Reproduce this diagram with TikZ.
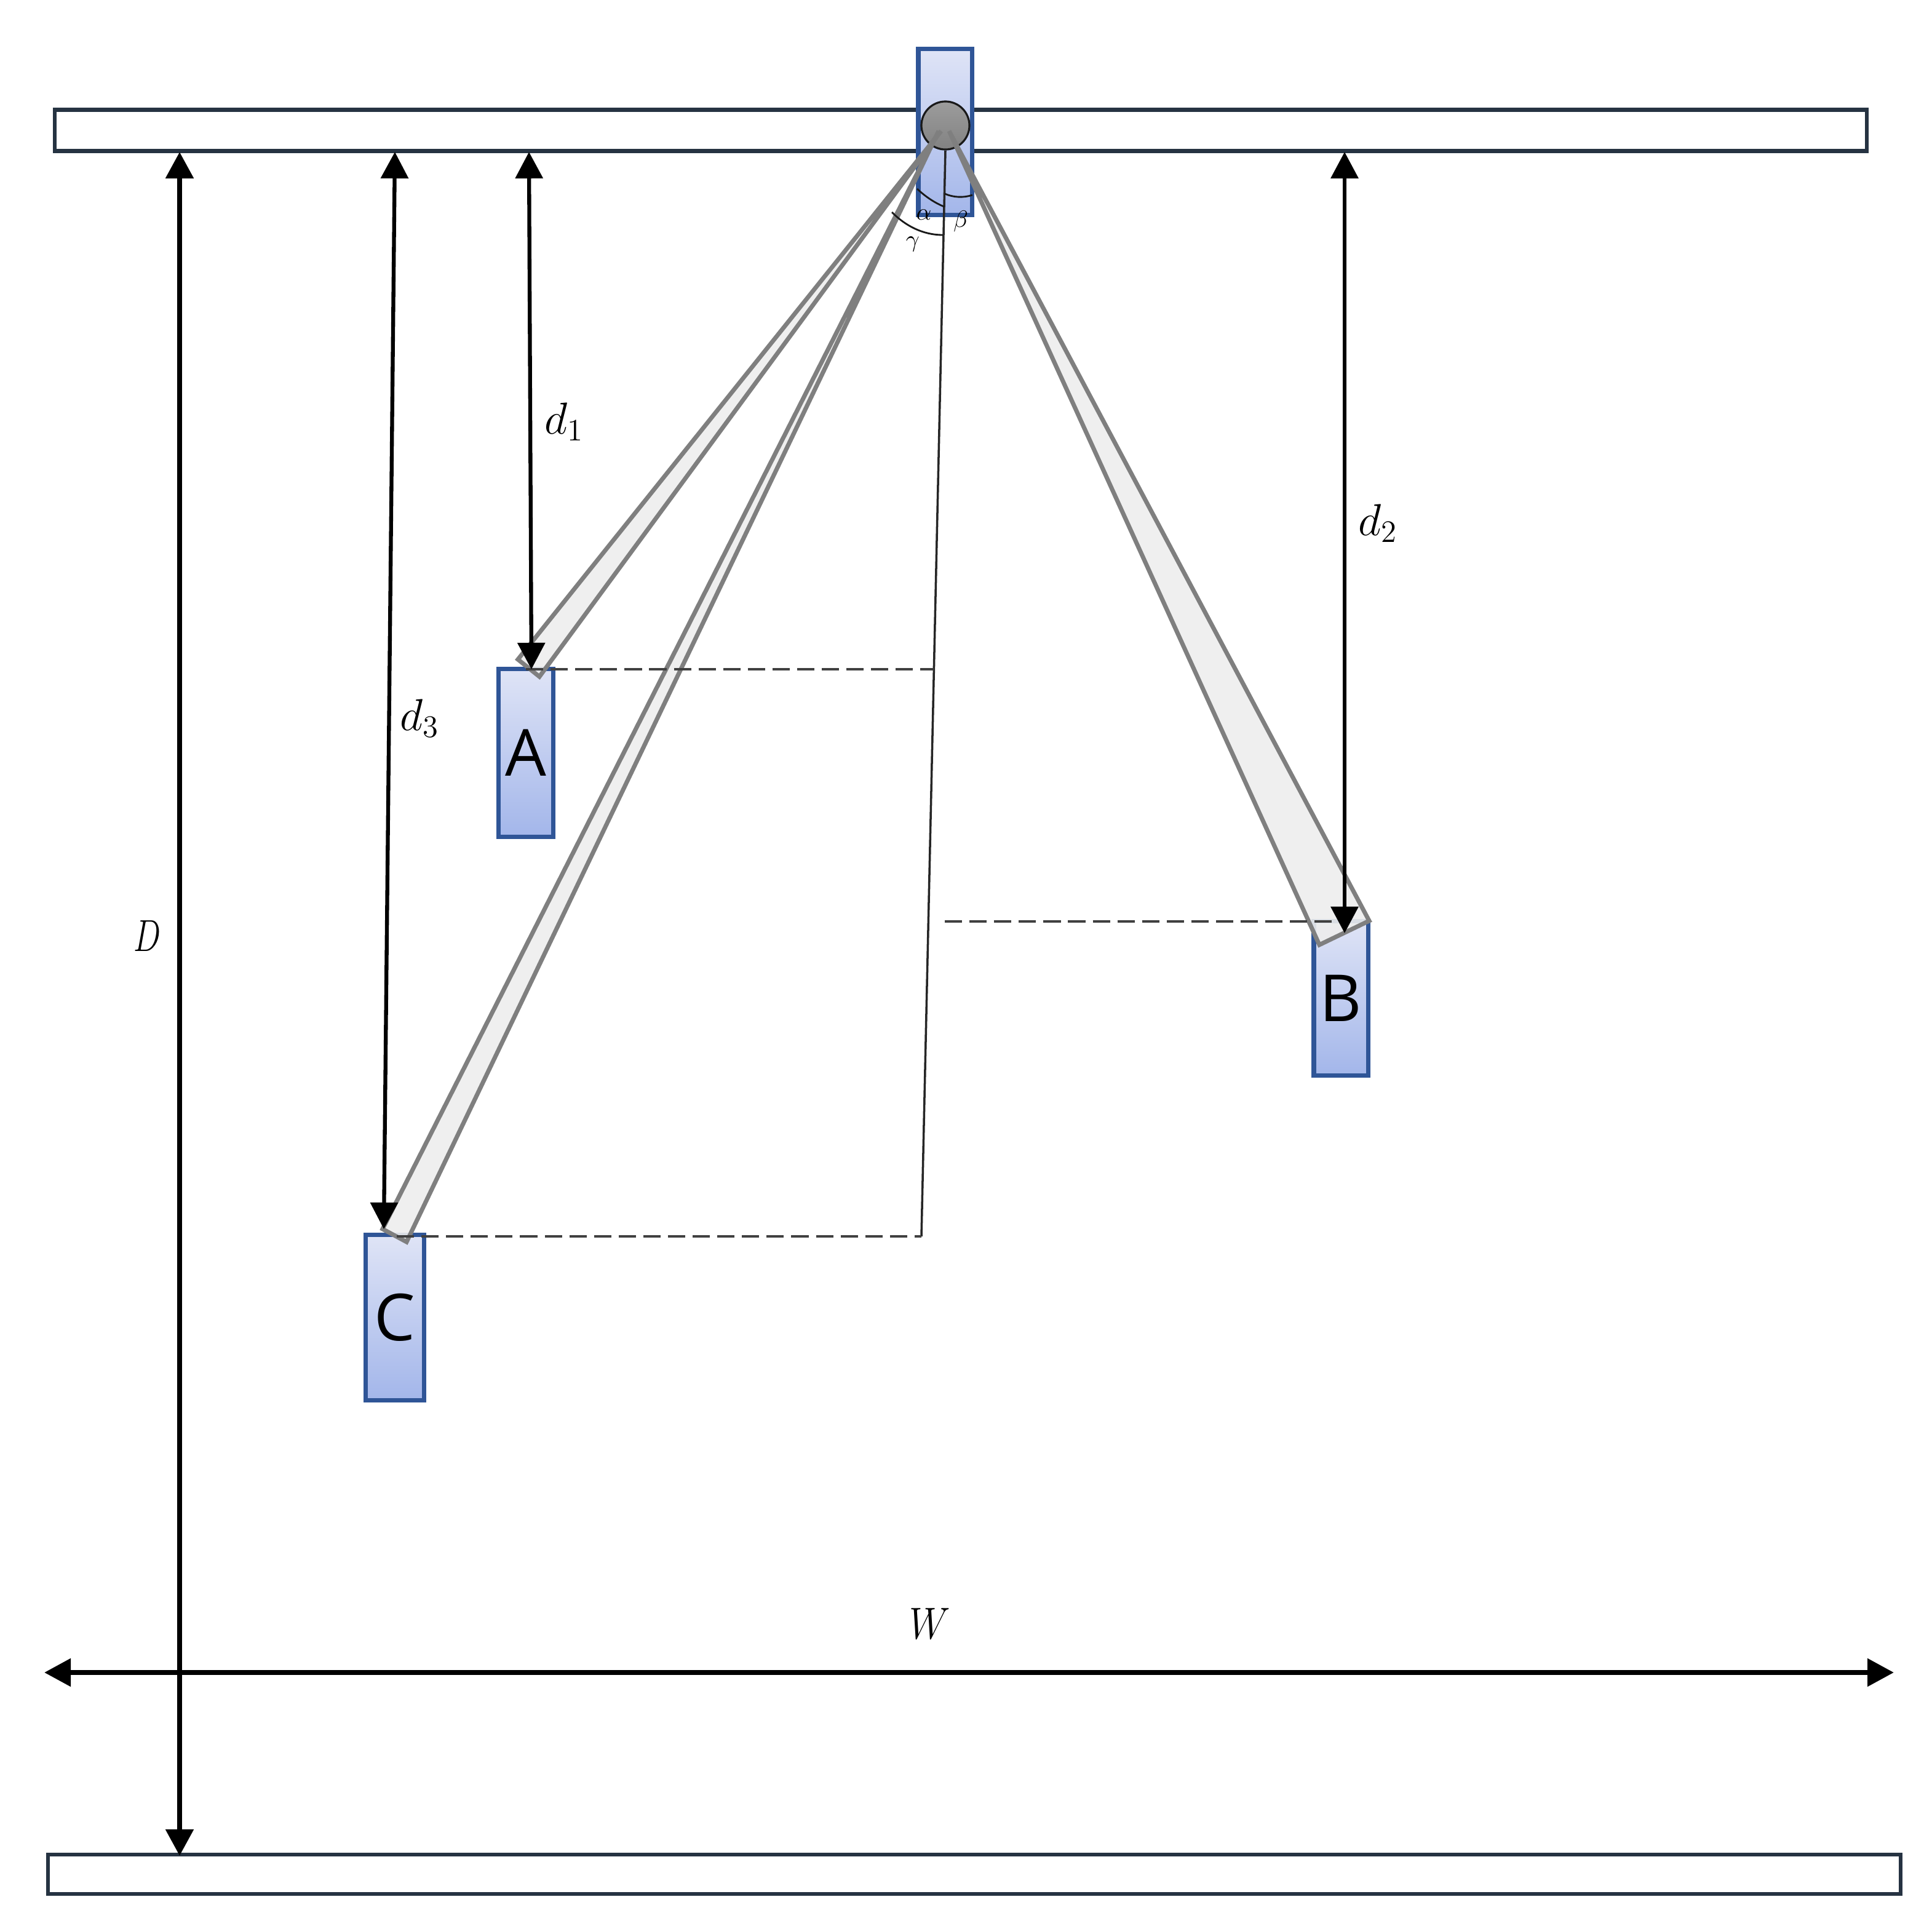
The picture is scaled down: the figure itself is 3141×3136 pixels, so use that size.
\documentclass[tikz,border=0pt]{standalone}
\usepackage{fontspec}
\usepackage{amsmath}
\usepackage{graphicx}
\setsansfont{Open Sans}
\usetikzlibrary{arrows.meta}
\definecolor{blueedge}{HTML}{2F5597}
\definecolor{bluetop}{HTML}{DFE4F6}
\definecolor{bluebot}{HTML}{A3B6EA}
\definecolor{baredge}{HTML}{263342}
\definecolor{wedgeedge}{HTML}{7F7F7F}
\definecolor{wedgefill}{HTML}{EDEDED}
\definecolor{disctop}{HTML}{9C9C9C}
\definecolor{discbot}{HTML}{828282}
\tikzset{
  barbox/.style={draw=baredge,fill=white,line width=1.9pt,inner sep=0pt,outer sep=0pt},
  massbox/.style={draw=blueedge,top color=bluetop,bottom color=bluebot,line width=2pt,inner sep=0pt,outer sep=0pt,font=\sffamily\fontsize{30}{30}\selectfont},
  pivotdisc/.style={circle,draw=black!90,top color=disctop,bottom color=discbot,line width=0.9pt,inner sep=0pt,outer sep=0pt,minimum size=0.78cm},
  wedge/.style={draw=wedgeedge,fill=wedgefill,fill opacity=0.9,draw opacity=1,line width=2pt,line join=miter},
  headtip/.tip={Triangle[length=0.43cm,width=0.44cm]},
  dimthick/.style={line width=2.4pt,headtip-headtip},
  dimthin/.style={line width=1.8pt,headtip-headtip},
  guide/.style={draw=black!75,line width=1pt,dash pattern=on 8pt off 3.4pt},
  thinline/.style={draw=black!85,line width=1pt},
  anglearc/.style={draw=black!90,line width=0.8pt},
  mathlabel/.style={inner sep=0pt,font=\fontsize{22}{22}\selectfont},
  anglelabel/.style={inner sep=0pt,font=\fontsize{11}{11}\selectfont},
}
\begin{document}
\begin{tikzpicture}[x=0.01cm,y=-0.01cm]
\useasboundingbox (0,0) rectangle (3141,3136);
% bars
\node[barbox,minimum width=29.44cm,minimum height=0.67cm] (top) at (1562,212) {};
\node[barbox,minimum width=30.10cm,minimum height=0.64cm] (bottom) at (1584,3047) {};
% pivot block and masses
\node[massbox,minimum width=0.87cm,minimum height=2.69cm] (slider) at (1536.5,214.5) {};
\node[massbox,minimum width=0.88cm,minimum height=2.72cm] (A) at (855,1224) {A};
\node[massbox,minimum width=0.88cm,minimum height=2.50cm] (B) at (2180,1623) {B};
\node[massbox,minimum width=0.94cm,minimum height=2.68cm] (C) at (642,2142) {C};
\node[pivotdisc] (pivot) at (1537,204) {};
% coordinates
\coordinate (topA) at (860,247);
\coordinate (endA) at (864,1088);
\coordinate (topB) at (2186,247);
\coordinate (endB) at (2186,1517);
\coordinate (topC) at (642,247);
\coordinate (endC) at (624,1998);
\coordinate (topD) at (292,247);
\coordinate (endD) at (292,3017);
\coordinate (wL) at (72,2719);
\coordinate (wR) at (3079,2719);
\coordinate (apexA) at (1530,213);
\coordinate (apexC) at (1526,213);
\coordinate (apexB) at (1543,213);
\coordinate (cornerA1) at (842,1072);
\coordinate (cornerA2) at (877,1100);
\coordinate (cornerB1) at (2145,1536);
\coordinate (cornerB2) at (2226,1497);
\coordinate (cornerC1) at (622,1998);
\coordinate (cornerC2) at (661,2019);
\coordinate (axisTop) at (1537,245);
\coordinate (axisBot) at (1498,2010);
\coordinate (dashA) at (1518,1088);
\coordinate (dashB) at (1536,1498);
\coordinate (dashC) at (1498,2010);
\coordinate (dashAs) at (855,1088);
\coordinate (dashBe) at (2177,1498);
\coordinate (dashCs) at (645,2010);
% wedges
\draw[wedge] (apexA) -- (cornerA1) -- (cornerA2) -- cycle;
\draw[wedge] (apexC) -- (cornerC1) -- (cornerC2) -- cycle;
\draw[wedge] (apexB) -- (cornerB1) -- (cornerB2) -- cycle;
% axis and guides
\draw[thinline] (axisTop) -- (axisBot);
\draw[guide] (dashAs) -- (dashA);
\draw[guide] (dashB) -- (dashBe);
\draw[guide] (dashCs) -- (dashC);
% angle arcs
\coordinate (a1) at (1491,307);
\coordinate (a2) at (1535,336);
\coordinate (b1) at (1536,315);
\coordinate (b2) at (1581,317);
\coordinate (g1) at (1450,345);
\coordinate (g2) at (1533,382);
\draw[anglearc] (a1) .. controls (1505,320) and (1520,330) .. (a2);
\draw[anglearc] (b1) .. controls (1550,321) and (1566,322) .. (b2);
\draw[anglearc] (g1) .. controls (1472,367) and (1500,382) .. (g2);
\node[anglelabel] (alpha) at (1502,349) {$\alpha$};
\node[anglelabel] (beta) at (1562,360) {$\beta$};
\node[anglelabel] (gamma) at (1484,397) {$\gamma$};
% dimensions
\draw[dimthin] (topA) -- (endA);
\draw[dimthin] (topB) -- (endB);
\draw[dimthin] (topC) -- (endC);
\draw[dimthick] (topD) -- (endD);
\draw[dimthick] (wL) -- (wR);
\node[mathlabel] (d1) at (917,686) {$d_1$};
\node[mathlabel] (d2) at (2240,851) {$d_2$};
\node[mathlabel] (d3) at (682,1168) {$d_3$};
\node[mathlabel] (D) at (240,1522) {\scalebox{0.72}[1]{$D$}};
\node[mathlabel] (W) at (1512,2640) {\scalebox{0.86}[1]{$W$}};
\end{tikzpicture}
\end{document}
